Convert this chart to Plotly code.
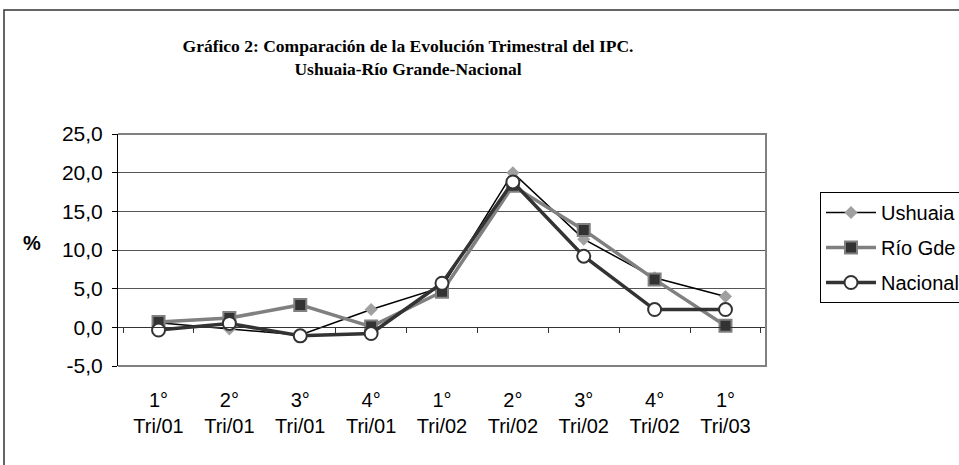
import plotly.graph_objects as go

categories = ["1°<br>Tri/01", "2°<br>Tri/01", "3°<br>Tri/01", "4°<br>Tri/01",
              "1°<br>Tri/02", "2°<br>Tri/02", "3°<br>Tri/02", "4°<br>Tri/02",
              "1°<br>Tri/03"]
ushuaia = [0.6, -0.2, -1.0, 2.3, 5.2, 20.0, 11.4, 6.4, 4.0]
rio_gde = [0.7, 1.2, 2.9, 0.1, 4.6, 18.3, 12.6, 6.2, 0.2]
nacional = [-0.35, 0.5, -1.1, -0.8, 5.7, 18.8, 9.2, 2.3, 2.3]

y_ticks = [-5, 0, 5, 10, 15, 20, 25]
y_tick_labels = ["-5,0", "0,0", "5,0", "10,0", "15,0", "20,0", "25,0"]

title_text = "<b>Gráfico 2: Comparación de la Evolución Trimestral del IPC.<br>Ushuaia-Río Grande-Nacional</b>"

W, H = 959, 465
L, R, T, B = 118, 193, 134, 99
ymin, ymax = -5, 25

fig = go.Figure()
fig.add_trace(go.Scatter(
    x=categories, y=ushuaia, name="Ushuaia", mode="lines+markers", legendgroup="a",
    line=dict(color="#000000", width=1.5),
    marker=dict(symbol="diamond", size=10, color="#a0a0a0", line=dict(width=0))))
fig.add_trace(go.Scatter(
    x=categories, y=rio_gde, name="Río Gde", mode="lines+markers", legendgroup="b",
    line=dict(color="#808080", width=3.5),
    marker=dict(symbol="square", size=12, color="#333333", line=dict(color="#808080", width=2))))
fig.add_trace(go.Scatter(
    x=categories, y=nacional, name="Nacional", mode="lines+markers", legendgroup="c",
    line=dict(color="#333333", width=3.5),
    marker=dict(symbol="circle", size=13, color="#ffffff", line=dict(color="#333333", width=2))))

pw = W - L - R
ph = H - T - B
zero_pos = (0 - ymin) / (ymax - ymin)

bx0 = (4 - L) / pw
by1 = (H - B - 10) / ph

fig.update_layout(
    width=W, height=H,
    margin=dict(l=L, r=R, t=T, b=B, autoexpand=False),
    paper_bgcolor="white", plot_bgcolor="white",
    font=dict(family="Liberation Sans, Arial, sans-serif", size=20, color="#000000"),
    title=dict(text=title_text, x=408 / W, xanchor="center", xref="container",
               y=1 - 52 / H, yanchor="middle", yref="container",
               font=dict(family="Liberation Serif, Times New Roman, serif", size=17.5, color="#000000")),
    showlegend=True,
    legend=dict(x=(820 - L) / pw, y=(H - B - 192) / ph, xanchor="left", yanchor="top",
                bgcolor="white", bordercolor="#000000", borderwidth=1,
                font=dict(size=20), traceorder="grouped", tracegroupgap=6,
                itemwidth=50),
    xaxis=dict(type="category", anchor="free", position=zero_pos,
               showline=True, linecolor="#333333", linewidth=1,
               ticks="outside", ticklen=5, tickcolor="#333333", tickson="boundaries",
               showgrid=False, zeroline=False, ticklabelstandoff=55,
               tickfont=dict(size=20)),
    yaxis=dict(range=[ymin, ymax], tickvals=y_ticks, ticktext=y_tick_labels,
               showline=True, linecolor="#000000", linewidth=1,
               ticks="outside", ticklen=5, tickcolor="#000000",
               showgrid=True, gridcolor="#555555", gridwidth=1, zeroline=False,
               ticklabelstandoff=5, tickfont=dict(size=21)),
    shapes=[
        dict(type="path", xref="paper", yref="paper", path="M0,1 L1,1 L1,0 L0,0",
             line=dict(color="#808080", width=2), layer="above"),
        dict(type="path", xref="paper", yref="paper",
             path=f"M2.5,{by1} L{bx0},{by1} L{bx0},-2",
             line=dict(color="#333333", width=1.5)),
    ],
    annotations=[
        dict(text="<b>%</b>", xref="paper", yref="paper",
             x=(32 - L) / pw, y=(H - B - 243) / ph, showarrow=False,
             xanchor="center", yanchor="middle", font=dict(size=20)),
    ],
)

fig.write_html("out.html", config={"displayModeBar": False},
               post_script="document.body.style.margin='0';document.body.style.overflow='hidden';")
